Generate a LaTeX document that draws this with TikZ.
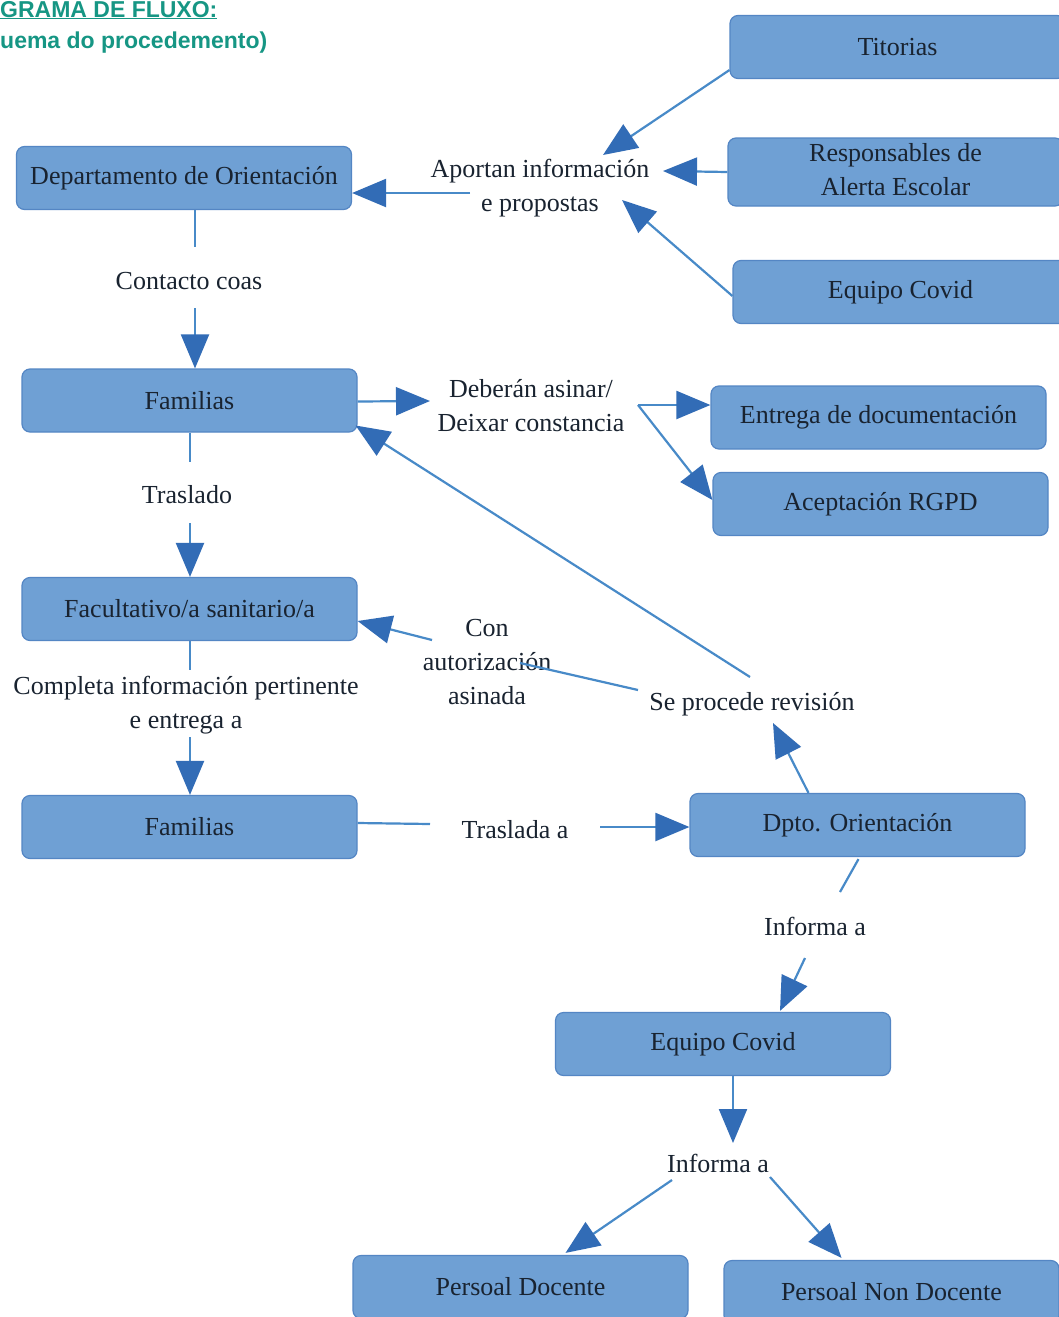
\documentclass[tikz,border=0pt]{standalone}
\usepackage{fontspec}
\setmainfont{Liberation Serif}
\newfontfamily\titlefont{Liberation Sans}
\usetikzlibrary{arrows.meta,calc}
\definecolor{boxfill}{RGB}{111,160,212}
\definecolor{boxdraw}{RGB}{84,134,196}
\definecolor{linecol}{RGB}{72,138,200}
\definecolor{tipcol}{RGB}{50,108,182}
\definecolor{txtcol}{RGB}{25,35,48}
\definecolor{titlecol}{RGB}{22,150,132}
\tikzset{
  box/.style={draw=boxdraw, line width=1.2pt, fill=boxfill, rounded corners=8pt,
    minimum width=335pt, minimum height=63pt, inner sep=0pt, text=txtcol,
    font=\fontsize{26}{34}\selectfont},
  lbl/.style={text=txtcol, align=center, inner sep=0pt, font=\fontsize{26}{34}\selectfont},
  ln/.style={draw=linecol, line width=2.2pt},
  arr/.style={ln, -{Triangle[length=34pt,width=28pt,color=tipcol]}},
}
\begin{document}
\begin{tikzpicture}[x=1pt,y=-1pt]
\useasboundingbox (0,0) rectangle (1059,1317);
\fill[white] (0,0) rectangle (1059,1317);
% title
\node[anchor=base west, inner sep=0pt, text=titlecol, font=\titlefont\bfseries\fontsize{23}{28}\selectfont] (t1) at (0,17) {\underline{GRAMA DE FLUXO:}};
\node[anchor=base west, inner sep=0pt, text=titlecol, font=\titlefont\bfseries\fontsize{23}{28}\selectfont] (t2) at (0,48) {uema do procedemento)};
% boxes
\node[box] (titorias) at (897.5,47) {Titorias};
\node[box] (resp) at (895.5,172) {\begin{tabular}{@{}c@{}}Responsables de\\Alerta Escolar\end{tabular}};
\node[box] (covid1) at (900.5,292) {Equipo Covid};
\node[box] (dept) at (184,178) {Departamento de Orientación};
\node[box] (fam1) at (189.5,400.5) {Familias};
\node[box] (entrega) at (878.5,417.5) {Entrega de documentación};
\node[box] (acept) at (880.5,504) {Aceptación RGPD};
\node[box] (facult) at (189.5,609) {Facultativo/a sanitario/a};
\node[box] (fam2) at (189.5,827) {Familias};
\node[box] (dpto) at (857.5,825) {Dpto. Orientación};
\node[box] (covid2) at (723,1044) {Equipo Covid};
\node[box] (pdoc) at (520.5,1287) {Persoal Docente};
\node[box] (pnon) at (891.5,1292) {Persoal Non Docente};
% labels
\node[lbl] (aport) at (540,188) {Aportan información\\e propostas};
\node[lbl] (contacto) at (189,281) {Contacto coas};
\node[lbl] (deber) at (531,406) {Deberán asinar/\\Deixar constancia};
\node[lbl] (traslado) at (187,495) {Traslado};
\node[lbl] (con) at (487,662) {Con\\autorización\\asinada};
\node[lbl] (seproc) at (752,704) {Se procede revisión};
\node[lbl] (completa) at (186,705) {Completa información pertinente\\e entrega a};
\node[lbl] (trasladaa) at (515,830) {Traslada a};
\node[lbl] (inf1) at (815,926) {Informa a};
\node[lbl] (inf2) at (718,1163) {Informa a};
% label-side end points
\coordinate (aportT) at (603,155);
\coordinate (aportR) at (663,171);
\coordinate (aportB) at (622,200);
\coordinate (aportW) at (470,193);
\coordinate (contN) at (195,247);
\coordinate (contS) at (195,308);
\coordinate (deberW) at (430,401);
\coordinate (deberE) at (638,405);
\coordinate (trasN) at (190,462);
\coordinate (trasS) at (190,523);
\coordinate (compN) at (190,670);
\coordinate (compS) at (190,737);
\coordinate (trasaW) at (430,824);
\coordinate (trasaE) at (600,827);
\coordinate (seprocB) at (773,723);
\coordinate (seprocT) at (750,677);
\coordinate (seprocW) at (638,690);
\coordinate (conE) at (520,663);
\coordinate (conW) at (432,640);
\coordinate (inf1T) at (840,892);
\coordinate (inf1B) at (805,958);
\coordinate (inf2T) at (733,1143);
\coordinate (inf2L) at (672,1180);
\coordinate (inf2R) at (770,1177);
% connectors
\draw[arr] ($(titorias.south west)+(0,-9)$) -- (aportT);
\draw[arr] (resp.west) -- (aportR);
\draw[arr] ($(covid1.west)+(0,4)$) -- (aportB);
\draw[arr] (aportW) -- (aportW -| dept.east);
\draw[ln] ($(dept.south)+(11,0)$) -- (contN);
\draw[arr] (contS) -- ($(fam1.north)+(5.5,0)$);
\draw[arr] ($(fam1.east)+(0,1)$) -- (deberW);
\draw[arr] (deberE) -- (deberE -| entrega.west);
\draw[arr] (deberE) -- ($(acept.west)+(0,-4)$);
\draw[ln] ($(fam1.south)+(0.5,0)$) -- (trasN);
\draw[arr] (trasS) -- ($(facult.north)+(0.5,0)$);
\draw[ln] ($(facult.south)+(0.5,0)$) -- (compN);
\draw[arr] (compS) -- ($(fam2.north)+(0.5,0)$);
\draw[ln] ($(fam2.east)+(0,-4)$) -- (trasaW);
\draw[arr] (trasaE) -- (trasaE -| dpto.west);
\draw[arr] ($(dpto.north)+(-49,0)$) -- (seprocB);
\draw[arr] (seprocT) -- ($(fam1.east)+(-2,25)$);
\draw[ln] (seprocW) -- (conE);
\draw[arr] (conW) -- ($(facult.east)+(0,12)$);
\draw[ln] ($(dpto.south)+(1,2)$) -- (inf1T);
\draw[arr] (inf1B) -- ($(covid2.north)+(57,-1)$);
\draw[arr] ($(covid2.south)+(10,0)$) -- (inf2T);
\draw[arr] (inf2L) -- ($(pdoc.north)+(45,-2)$);
\draw[arr] (inf2R) -- ($(pnon.north)+(-50,-2)$);
\end{tikzpicture}
\end{document}
